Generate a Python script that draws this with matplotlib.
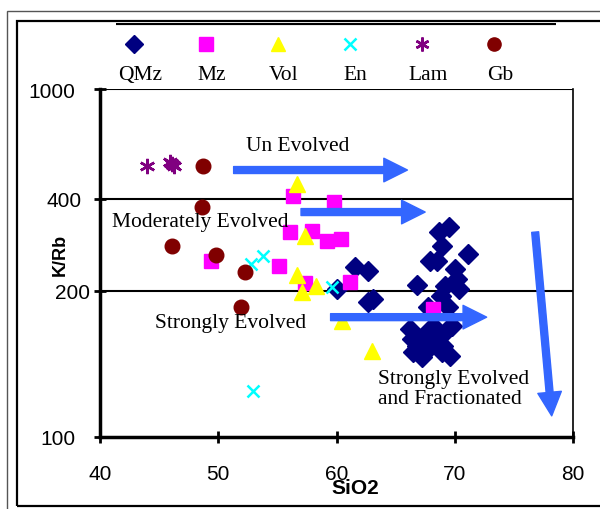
import matplotlib
matplotlib.use('Agg')
import matplotlib.pyplot as plt
from matplotlib.patches import Rectangle
from matplotlib.transforms import ScaledTranslation

# SiO2 / K/Rb (log axis 100-1000)
qmz_x = [69.5, 68.7, 68.9, 71.1, 67.9, 68.5, 70.0, 66.8, 70.2, 69.2, 70.4, 68.8,
         67.7, 69.4, 68.2, 69.8, 66.2, 69.3, 67.3, 66.4, 68.5, 66.8, 67.9, 69.0,
         66.5, 68.9, 69.6, 67.2, 61.6, 62.7, 60.0, 63.1, 62.7]
qmz_y = [401, 388, 354, 336, 320, 320, 304, 273, 284, 272, 266, 254,
         236, 236, 208, 208, 204, 202, 195, 191, 188, 183, 181, 183,
         176, 176, 171, 170, 308, 300, 266, 249, 244]
mz_x = [56.3, 59.8, 56.1, 57.9, 59.2, 60.4, 49.4, 55.1, 57.3, 61.1, 68.2]
mz_y = [493, 474, 388, 391, 366, 371, 320, 310, 277, 279, 233]
vol_x = [56.7, 57.3, 56.7, 57.1, 58.3, 60.5, 63.0]
vol_y = [533, 378, 292, 261, 272, 215, 177]
en_x = [52.8, 53.8, 59.6, 52.9]
en_y = [314, 331, 270, 136]
lam_x = [44.0, 45.9, 46.1, 46.3]
lam_y = [601, 617, 609, 601]
gb_x = [48.7, 48.6, 46.1, 49.8, 52.3, 51.9]
gb_y = [601, 458, 354, 333, 297, 236]

names = ['QMz', 'Mz', 'Vol', 'En', 'Lam', 'Gb']
xs = [qmz_x, mz_x, vol_x, en_x, lam_x, gb_x]
ys = [qmz_y, mz_y, vol_y, en_y, lam_y, gb_y]
styles = [dict(marker='D', color='#000080', ms=10),
          dict(marker='s', color='#FF00FF', ms=10.5),
          dict(marker='^', color='#FFFF00', ms=11),
          dict(marker='x', color='#00FFFF', ms=9, mew=1.8),
          dict(marker=(6, 2, 0), color='#800080', ms=11, mew=1.8),
          dict(marker='o', color='#800000', ms=10.5)]

# where the hand drawn "400" and "200" lines sit on the log axis
line_vals = [1000, 483, 263]
ytick_vals = [100, 263, 483, 1000]
ytick_labels = ['100', '200', '400', '1000']
ytick_shift = [0, 15, 7, 0]   # px, the labels are not aligned in the original

arrows = [((51.3, 585), (66.0, 585)),
          ((57.0, 443), (67.5, 443)),
          ((59.5, 221), (72.7, 221)),
          ((76.8, 388), (78.2, 115))]

fig = plt.figure(figsize=(6, 5.1), dpi=100)

# double page frame
fig.patches.append(Rectangle((7/600, -0.1), 1.2, (510-12)/510 + 0.1, transform=fig.transFigure,
                             fill=False, ec='#555555', lw=1.0))
fig.patches.append(Rectangle((17/600, (510-507)/510), 1.2, (507-22)/510, transform=fig.transFigure,
                             fill=False, ec='black', lw=1.6))

ax = fig.add_axes([100/600, (510-438)/510, (573-100)/600, (438-90)/510])
ax.set_yscale('log')
ax.set_xlim(40, 80)
ax.set_ylim(100, 1000)

for v in line_vals:
    ax.axhline(v, color='black', lw=1.5, zorder=1)

for x, y, st in zip(xs, ys, styles):
    ax.plot(x, y, ls='none', mec=st['color'], mfc=st['color'],
            marker=st['marker'], ms=st['ms'], mew=st.get('mew', 1), zorder=3)

for (x0, y0), (x1, y1) in arrows:
    ax.annotate('', xy=(x1, y1), xytext=(x0, y0),
                arrowprops=dict(arrowstyle='simple,head_length=1.7,head_width=1.7,tail_width=0.5',
                                color='#3366FF', shrinkA=0, shrinkB=0), zorder=4)

tf = 'Liberation Serif'
fs = 15.5
ax.text(56.7, 686, 'Un Evolved', family=tf, fontsize=fs, ha='center', va='center', zorder=5)
ax.text(48.5, 415, 'Moderately Evolved', family=tf, fontsize=fs, ha='center', va='center', zorder=5)
ax.text(51.0, 214, 'Strongly Evolved', family=tf, fontsize=fs, ha='center', va='center', zorder=5)
ax.text(63.5, 138, 'Strongly Evolved\nand Fractionated', family=tf, fontsize=fs,
        ha='left', va='center', linespacing=1.05, zorder=5)

ax.set_yticks(ytick_vals)
ax.set_yticklabels(ytick_labels)
ax.yaxis.set_minor_locator(matplotlib.ticker.NullLocator())
ax.set_xticks([40, 50, 60, 70, 80])
ax.tick_params(direction='inout', length=9, width=2, labelsize=15)
ax.tick_params(axis='x', pad=15)
ax.tick_params(axis='y', pad=13.5)
for lab in ax.get_xticklabels() + ax.get_yticklabels():
    lab.set_family('Liberation Sans')
for lab, dx in zip(ax.get_yticklabels(), ytick_shift):
    lab.set_transform(lab.get_transform() + ScaledTranslation(dx / 100, 0, fig.dpi_scale_trans))

ax.spines['top'].set_visible(False)
ax.spines['left'].set_linewidth(2.5)
ax.spines['bottom'].set_linewidth(2.5)
ax.spines['right'].set_linewidth(1.2)

ax.set_xlabel('SiO2', family='Liberation Sans', fontweight='bold', fontsize=15)
ax.set_ylabel('K/Rb', family='Liberation Sans', fontweight='bold', fontsize=13)
ax.xaxis.set_label_coords((355 - 100) / 473, (438 - 489) / 348)
ax.yaxis.set_label_coords((60 - 100) / 473, (438 - 255) / 348)
ax.xaxis.label.set_va('center')
ax.yaxis.label.set_va('center')

# legend: markers above labels
lax = fig.add_axes([116/600, (510-85)/510, (556-116)/600, (85-24)/510])
lax.set_xlim(0, 440/72)
lax.set_ylim(0, 1)
lax.axis('off')
lax.axhline(1, color='black', lw=3)
for i, (nm, st) in enumerate(zip(names, styles)):
    lax.plot(i + 0.25, 0.656, ls='none', marker=st['marker'], mfc=st['color'], mec=st['color'],
             ms=st['ms'] - 1, mew=st.get('mew', 1), clip_on=False)
    lax.text(i + 0.33, 0.16, nm, family=tf, fontsize=fs, ha='center', va='center')

fig.savefig('out.png', dpi=100)
